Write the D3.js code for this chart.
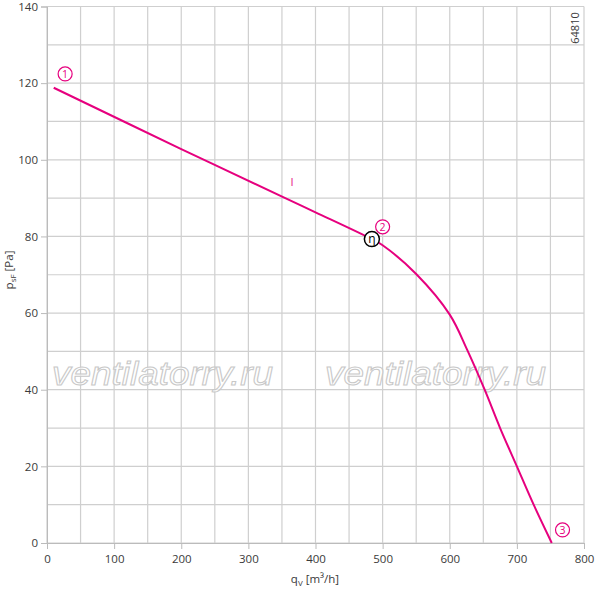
<!DOCTYPE html>
<html><head><meta charset="utf-8">
<script src="https://cdn.jsdelivr.net/npm/d3@7"></script>
<style>body{margin:0;background:#fff;}svg{display:block;font-family:"Open Sans",sans-serif;}</style>
</head><body><svg id="c" width="600" height="589"></svg>
<script>
const flowValues = [10, 200, 355, 400, 484, 500, 550, 600, 626, 652, 675, 700, 725, 752];
const pressureValues = [118.8, 102.8, 90, 86.3, 79.3, 77.7, 70.2, 59.6, 50.4, 40, 30, 20, 10, 0];
const xTicks = [0, 100, 200, 300, 400, 500, 600, 700, 800];
const yTicks = [0, 20, 40, 60, 80, 100, 120, 140];
const pointLabels = [{n:"1", q:27, p:122.4}, {n:"2", q:500, p:82.5}, {n:"3", q:768, p:3.4}];
const etaPoint = {q:484, p:79.3};
const labelI = {q:365, p:94.2};

const svg = d3.select("#c");
const m = {l:47, r:16, t:6.5, b:46};
const W = 600, H = 589;
const x = d3.scaleLinear().domain([0, 800]).range([m.l, W - m.r]);
const y = d3.scaleLinear().domain([0, 140]).range([H - m.b, m.t]);
const magenta = "#e6007e";

// grid
const g = svg.append("g");
g.selectAll(".vx").data(d3.range(0, 801, 50)).join("line")
  .attr("x1", d => x(d)).attr("x2", d => x(d)).attr("y1", y(0)).attr("y2", y(140))
  .attr("stroke", "#cfcfcf").attr("stroke-width", 1.2);
g.selectAll(".hy").data(d3.range(0, 141, 10)).join("line")
  .attr("x1", x(0)).attr("x2", x(800)).attr("y1", d => y(d)).attr("y2", d => y(d))
  .attr("stroke", "#cfcfcf").attr("stroke-width", 1.2);

// watermark
[[52, 385], [325, 385]].forEach(([px, py]) => {
  svg.append("text").attr("x", px).attr("y", py)
    .attr("font-family", "Liberation Sans, Arial, sans-serif").attr("font-style", "italic")
    .attr("font-size", 33).attr("textLength", 221).attr("lengthAdjust", "spacingAndGlyphs")
    .attr("fill", "#fff").attr("fill-opacity", 0.7).attr("stroke", "#c8c8c8").attr("stroke-width", 1)
    .text("ventilatorry.ru");
});

// axes
const xa = svg.append("g").attr("transform", `translate(0,${y(0)})`)
  .call(d3.axisBottom(x).tickValues(xTicks).tickSize(6).tickPadding(6));
const ya = svg.append("g").attr("transform", `translate(${x(0)},0)`)
  .call(d3.axisLeft(y).tickValues(yTicks).tickSize(6).tickPadding(3));
[xa, ya].forEach(a => {
  a.select(".domain").attr("stroke", "#bbb");
  a.selectAll(".tick line").attr("stroke", "#bbb");
  a.selectAll("text").attr("fill", "#3a3a3a").attr("font-size", 11.5).attr("font-family", "Open Sans, sans-serif");
});

// titles
const xt = svg.append("text").attr("x", 315).attr("y", 583).attr("text-anchor", "middle")
  .attr("font-size", 11.5).attr("fill", "#3a3a3a");
xt.append("tspan").text("q");
xt.append("tspan").attr("font-size", 8).attr("dy", 3).text("V");
xt.append("tspan").attr("dy", -3).text(" [m³/h]");
const yt = svg.append("text").attr("transform", "translate(13,270) rotate(-90)").attr("text-anchor", "middle")
  .attr("font-size", 11.5).attr("fill", "#3a3a3a");
yt.append("tspan").text("p");
yt.append("tspan").attr("font-size", 8).attr("dy", 3).text("sF");
yt.append("tspan").attr("dy", -3).text(" [Pa]");

svg.append("text").attr("transform", "translate(579,28) rotate(-90)").attr("text-anchor", "middle")
  .attr("font-size", 11).attr("fill", "#3a3a3a").text("64810");

// curve
const data = flowValues.map((q, i) => ({q, p: pressureValues[i]}));
svg.append("path").datum(data)
  .attr("d", d3.line().x(d => x(d.q)).y(d => y(d.p)).curve(d3.curveCatmullRom.alpha(0.5)))
  .attr("fill", "none").attr("stroke", magenta).attr("stroke-width", 2);

// label I
svg.append("text").attr("x", x(labelI.q)).attr("y", y(labelI.p) + 4).attr("text-anchor", "middle")
  .attr("font-size", 11).attr("fill", magenta).text("I");

// point labels
pointLabels.forEach(d => {
  svg.append("circle").attr("cx", x(d.q)).attr("cy", y(d.p)).attr("r", 7)
    .attr("fill", "#fff").attr("stroke", magenta).attr("stroke-width", 1.2);
  svg.append("text").attr("x", x(d.q)).attr("y", y(d.p) + 4).attr("text-anchor", "middle")
    .attr("font-size", 10.5).attr("fill", magenta).text(d.n);
});

// eta marker
svg.append("circle").attr("cx", x(etaPoint.q)).attr("cy", y(etaPoint.p)).attr("r", 7.5)
  .attr("fill", "#fff").attr("stroke", "#000").attr("stroke-width", 1.5);
svg.append("text").attr("x", x(etaPoint.q)).attr("y", y(etaPoint.p) + 4).attr("text-anchor", "middle")
  .attr("font-size", 12).attr("fill", "#000").text("η");
</script></body></html>
